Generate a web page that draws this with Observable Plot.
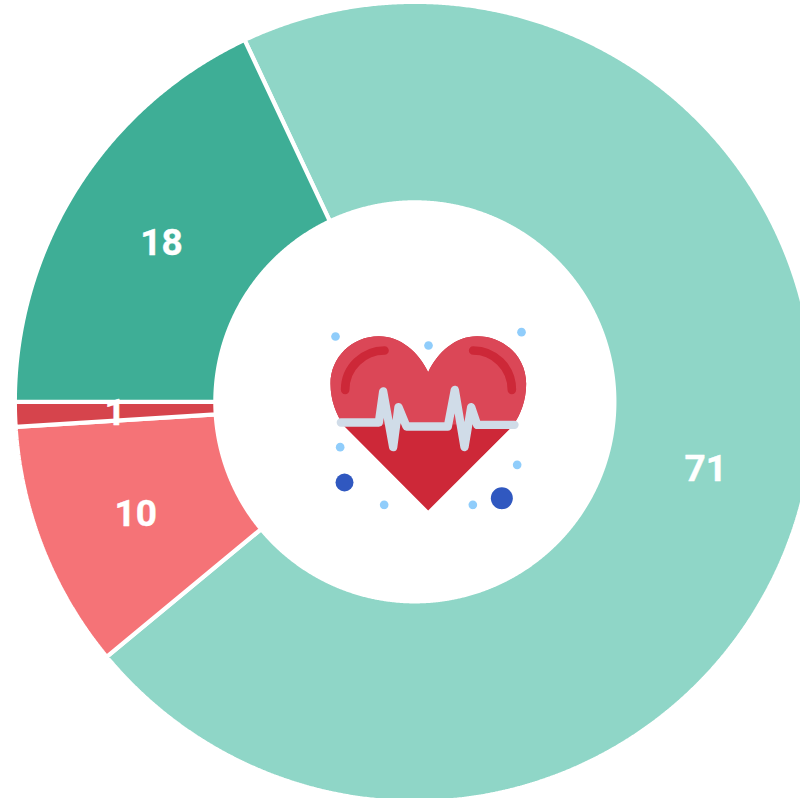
<!DOCTYPE html>
<html>
<head>
<meta charset="utf-8">
<style>html,body{margin:0;padding:0;background:#fff;overflow:hidden}svg{display:block}</style>
<script src="https://cdn.jsdelivr.net/npm/d3@7"></script>
<script src="https://cdn.jsdelivr.net/npm/@observablehq/plot@0.6"></script>
</head>
<body>
<div id="chart"></div>
<script>
const categories = ["a", "b", "c", "d"];
const values = [71, 10, 1, 18];
const colors = ["#8fd6c7", "#f57377", "#d6444c", "#3eae96"];

const outer = 400, inner = 199.5, labelRadius = 299;
const start = -25.2 * Math.PI / 180;
const slices = d3.pie().sort(null).startAngle(start).endAngle(start + 2 * Math.PI)(values)
  .map((s, i) => ({...s, name: categories[i]}));

// outline of each ring sector, one vertex per quarter degree of its angle
const outline = slices.flatMap(s => {
  const n = Math.max(2, Math.ceil((s.endAngle - s.startAngle) * 720 / Math.PI));
  const pts = [];
  for (let k = 0; k <= n; k++) {
    const a = s.startAngle + (s.endAngle - s.startAngle) * k / n;
    pts.push({name: s.name, x: outer * Math.sin(a), y: -outer * Math.cos(a)});
  }
  for (let k = n; k >= 0; k--) {
    const a = s.startAngle + (s.endAngle - s.startAngle) * k / n;
    pts.push({name: s.name, x: inner * Math.sin(a), y: -inner * Math.cos(a)});
  }
  return pts;
});

const labels = slices.map(s => {
  const a = (s.startAngle + s.endAngle) / 2;
  return {text: String(s.value), x: labelRadius * Math.sin(a), y: -labelRadius * Math.cos(a)};
});

const icon = `<svg xmlns="http://www.w3.org/2000/svg" width="645" height="600" viewBox="0 0 645 600">
<defs><clipPath id="u"><rect x="0" y="0" width="645" height="312"/></clipPath></defs>
<path id="h" fill="#cd2838" d="M323 155C295 95 240 47 175 47C95 47 30 110 30 190C30 240 48 285 72 318L323 570L575 318C600 285 617 240 617 190C617 110 552 47 470 47C405 47 351 95 323 155Z"/>
<path clip-path="url(#u)" fill="#db4757" d="M323 155C295 95 240 47 175 47C95 47 30 110 30 190C30 240 48 285 72 318L323 570L575 318C600 285 617 240 617 190C617 110 552 47 470 47C405 47 351 95 323 155Z"/>
<g fill="none" stroke="#cd2838" stroke-width="26" stroke-linecap="round">
<path d="M74 208C74 140 130 90 192 90"/><path d="M458 90C520 90 574 140 574 208"/></g>
<path fill="none" stroke="#d0dce8" stroke-width="25" stroke-linecap="round" stroke-linejoin="round" d="M61 306L175 306L188 213L218 380L234 260L258 318L382 318L403 208L432 380L452 260L470 313L582 313"/>
<g fill="#90cdfb"><circle cx="45" cy="48" r="13"/><circle cx="324" cy="75" r="13"/><circle cx="603" cy="35" r="13"/><circle cx="59" cy="380" r="13"/><circle cx="590" cy="433" r="13"/><circle cx="191" cy="553" r="13"/><circle cx="457" cy="553" r="13"/></g>
<g fill="#3058c0"><circle cx="72" cy="486" r="27"/><circle cx="544" cy="533" r="33"/></g>
</svg>`;
const iconSrc = "data:image/svg+xml," + encodeURIComponent(icon);

const plot = Plot.plot({
  width: 800,
  height: 798,
  margin: 0,
  x: {domain: [-414.35, 385.65], range: [0, 800], axis: null},
  y: {domain: [-401.35, 396.65], range: [0, 798], axis: null},
  color: {domain: categories, range: colors},
  style: {background: "#fff"},
  marks: [
    Plot.line(outline, {
      x: "x", y: "y", z: "name", fill: "name",
      stroke: "#fff", strokeWidth: 4.2, strokeLinejoin: "miter", strokeLinecap: "butt",
      curve: "linear-closed"
    }),
    Plot.image([{x: 13.15, y: 18.65}], {x: "x", y: "y", width: 215, height: 200, src: iconSrc}),
    Plot.text(labels, {
      x: "x", y: "y", text: "text", fill: "#fff", fontSize: 37, fontWeight: "bold", dx: -1, dy: 2,
      stroke: "#fff", strokeWidth: 0.4,
      fontFamily: "Roboto, Arial, sans-serif", textAnchor: "middle", lineAnchor: "middle"
    })
  ]
});
document.getElementById("chart").append(plot);
</script>
</body>
</html>
